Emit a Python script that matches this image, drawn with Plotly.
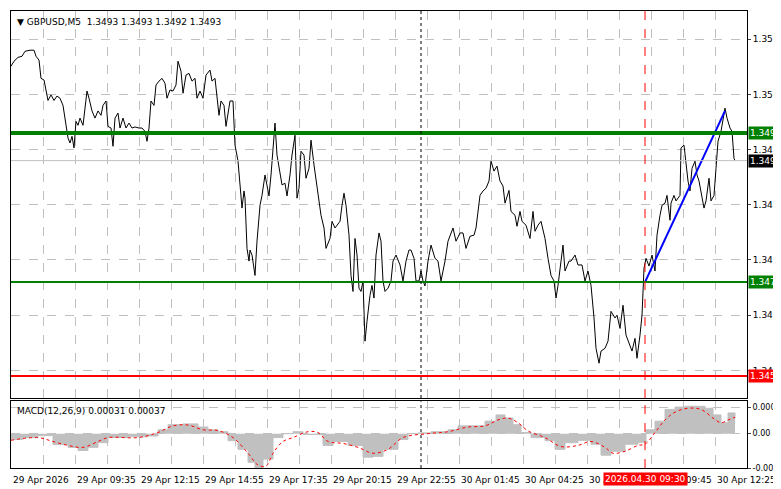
import plotly.graph_objects as go
from plotly.subplots import make_subplots

# ---------------- data ----------------
# price samples: bar index (5-minute bars) and price in pips above 1.3400
price_bar = [0,1.5,3.5,5.5,7,9.5,11.5,12.5,14,15,16.5,17.5,18.5,20,21.5,23,24.5,26,27,28.5,29.5,30.5,31.5,32.5,33.5,34.5,36,37,38,39,40.5,42,43.5,45,46,47.5,48.5,50,51,52,53.5,54.5,56,57.5,59,60.5,62,64,65.5,67,68,69,70,71.5,72.5,74,75.5,77,78,79.5,81,82.5,83.5,85,86,87.5,89,90.5,92,93,94.5,96,97.5,99.5,100.5,102,103,104,105,106.5,107.5,109.5,111,112,113.5,114.5,115.5,116.5,117,118,119,119.5,120.5,122,123,124.5,125.5,127,127.5,129,130,131.5,132,133,134.5,135.5,137,138,139.5,140.5,142,143,144,145,146.5,147.5,149,150,151.5,152.5,154,155,156.5,157.5,159.5,160.5,162,163,164.5,165.5,166.5,167.5,169,170,171,172,173,174,175,176,177,178,179.5,180.5,181.5,182.5,184,185,186,187,188.5,190,191,192.5,194.5,196,197.5,199,200,201.5,202.5,204,205,206,207,208.5,210,212,213.5,215,217,218.5,221,222.5,224.5,226,227.5,229.5,231.5,232.5,234.5,236,237.5,239,240,241.5,243,244.5,246,247,249,250,252,253,254.5,255.5,257.5,259.5,261,262,263.5,265,267,268.5,270,271.5,272.5,273.5,275,276,277,279,280,282,283.5,285.5,287,288.5,290,291.5,292.5,294,295,297,298.5,300,302,303,304.5,306,307.5,309.5,310.5,312,313,314.5,315.5,316.5,317.5,319,320.5,322,323,324.5,325.5,327,328,329.5,330,331.5,332.5,334.5,335,336.5,337.5,338.5,339.5,340.5,342,343,344,345,346.5,347.5,349,350,351.5,352.5,353.5,355,356,357,358,359.5,360.5,361.5,362]
price_pips = [110.1,111.0,111.7,111.9,112.8,113.0,113.0,111.9,111.2,107.9,107.6,105.8,103.9,104.9,103.9,104.7,104.3,103.0,100.3,97.1,96.2,97.4,95.3,100.1,99.4,100.7,99.4,102.5,105.6,104.3,102.0,100.7,102.0,101.2,103.0,103.8,99.2,98.9,95.6,100.7,101.6,98.9,100.7,98.9,99.8,98.9,99.1,98.9,98.9,98.3,96.5,98.9,103.8,103.0,106.7,107.4,107.9,107.0,104.3,105.8,105.6,106.7,111.0,109.2,105.2,108.5,108.8,107.4,107.9,104.3,105.6,104.3,108.5,109.4,107.4,107.9,104.9,101.2,103.8,103.0,99.2,103.8,103.8,95.8,92.9,89.3,84.4,87.5,86.2,77.1,74.8,76.8,75.9,72.2,78.4,84.9,86.7,90.4,89.3,86.6,90.4,97.1,99.8,94.0,90.4,88.6,88.9,86.6,90.4,94.0,97.6,86.2,88.0,94.7,94.0,89.8,91.6,96.7,92.2,89.3,85.8,83.1,80.8,77.1,78.9,82.0,80.8,81.3,82.0,84.9,87.1,84.9,79.5,72.2,69.3,78.9,75.9,69.9,69.3,71.2,60.3,63.9,68.6,70.4,68.1,75.9,79.9,78.4,71.2,69.3,69.9,71.2,74.8,75.9,74.1,71.2,74.8,76.8,76.8,75.3,71.2,71.2,73.0,71.2,70.3,74.8,77.7,75.3,74.8,71.2,74.8,78.4,80.8,78.4,79.9,79.9,77.1,79.3,79.5,80.8,86.7,87.5,88.0,89.3,92.9,91.1,92.0,89.3,88.4,85.3,87.6,83.8,83.1,81.1,83.8,82.0,81.3,78.9,83.8,80.2,81.3,82.0,78.9,75.3,72.2,71.2,68.1,70.4,74.8,77.7,73.0,74.8,74.8,75.9,74.1,74.1,71.2,73.0,70.4,64.5,59.0,56.3,58.5,59.0,60.3,65.7,64.5,65.0,62.6,66.8,61.4,59.6,58.5,60.8,57.2,61.4,65.0,73.5,75.3,73.9,75.9,73.0,79.5,83.1,84.9,85.3,86.7,82.2,85.3,86.7,85.7,86.7,95.3,95.8,92.9,89.3,87.5,91.6,92.9,90.4,89.3,87.5,84.4,85.7,89.8,85.7,86.7,91.6,96.5,98.3,100.7,102.5,100.7,98.9,98.3,93.4,93.0]

macd_bar = [0,6,13.5,21,28.5,33.5,38.5,43.5,48.5,58.5,68.5,73.5,78.5,86,93.5,98.5,103.5,108.5,113.5,118.5,122,126,131,136,141,146,151,156,161,168.5,176,181,186,193.5,198.5,203.5,210,218.5,223.5,230,237,242.5,247,251,255,260,267,272,277,283.5,290,295,300,307,313.5,317.5,322,327,332,337,342,347,351,355,358.5,362]
macd_hist = [-0.00015,-0.0001,-0.00005,-0.00028,-0.00035,-0.00043,-0.00035,-0.00023,-0.0001,-0.00008,-0.00006,0.0001,0.00023,0.00025,0.00017,0.0001,0.00005,-0.00018,-0.0004,-0.00073,-0.00093,-0.00065,-0.0001,0.0,0.00005,-0.00002,-0.00002,-0.0003,-0.0002,-0.0003,-0.0006,-0.00058,-0.0004,-0.00015,0.0,0.00002,0.00005,0.0001,0.0002,0.0002,0.00032,0.00048,0.0004,0.00023,0.00003,-0.0001,-0.00018,-0.0004,-0.00023,-0.00017,-0.00027,-0.00055,-0.00045,-0.00027,-0.00022,0.0001,0.00032,0.00062,0.00068,0.0007,0.0007,0.00065,0.00048,0.00028,0.00053,0.00039]
signal_bar = [0,13.5,21,28.5,36,43.5,48.5,63.5,73.5,81,88.5,96,103.5,111,118.5,123.5,127.5,131,136,141,148.5,153.5,158.5,166,173.5,181,188.5,196,208.5,218.5,228.5,237,243.5,248.5,253.5,258.5,267,275,283.5,290,297,301,307,313.5,317,322,327,332,338.5,345,351,355,358.5,362]
signal_val = [-0.00017,-0.0001,-0.0002,-0.0003,-0.00035,-0.0002,-0.0001,-0.0001,0.00003,0.0002,0.00022,0.0001,0.00008,-0.0001,-0.0005,-0.0008,-0.00083,-0.0005,-0.0002,-0.0001,0.00005,0.00003,-0.0002,-0.00025,-0.00035,-0.0005,-0.0004,-0.0001,0.0,0.00005,0.00017,0.0002,0.00035,0.0004,0.00028,0.00007,-0.0001,-0.00033,-0.0003,-0.0002,-0.00035,-0.0005,-0.00045,-0.0003,-0.00027,0.00003,0.00035,0.00055,0.00065,0.00062,0.0004,0.00028,0.00035,0.00042]

time_tick_bars = [0,32,64,96,128,160,192,224,256,288,320,352]
time_tick_labels = ["29 Apr 2026","29 Apr 09:35","29 Apr 12:15","29 Apr 14:55","29 Apr 17:35","29 Apr 20:15","29 Apr 22:55","30 Apr 01:45","30 Apr 04:25","30 Apr 07:05","30 Apr 09:45","30 Apr 12:25"]
price_ticks = [1.3515,1.3505,1.3495,1.3485,1.3475,1.3465,1.3455]
level_strong = 1.3498
level_support = 1.3471
level_stop = 1.3454
last_price = 1.3493
trend_bars = [317,357]
trend_prices = [1.3471,1.3502]
marker_bar_black = 205
marker_bar_red = 317
marker_label = "2026.04.30 09:30"
macd_ticks = [0.00068,0.0,-0.00088]
macd_ticktext = ["0.00068","0.00","-0.00088"]

FONT = "DejaVu Sans"
prices = [1.34 + p/10000 for p in price_pips]

fig = make_subplots(rows=2, cols=1, shared_xaxes=False, vertical_spacing=0)
fig.update_layout(
    width=781, height=489, margin=dict(l=3, r=42, t=3, b=28, autoexpand=False),
    paper_bgcolor="white", plot_bgcolor="white", showlegend=False,
    font=dict(family=FONT, size=9, color="black"),
    yaxis=dict(domain=[0.155, 1.0]), yaxis2=dict(domain=[0.002, 0.148]),
)

fig.add_trace(go.Scatter(x=price_bar, y=prices, mode="lines",
                         line=dict(color="black", width=1)), row=1, col=1)
fig.add_trace(go.Scatter(x=trend_bars, y=trend_prices, mode="lines",
                         line=dict(color="#0000ff", width=2)), row=1, col=1)
fig.add_trace(go.Scatter(x=macd_bar, y=macd_hist, mode="lines", fill="tozeroy",
                         fillcolor="#c0c0c0", line=dict(color="#c0c0c0", width=1, shape="hv")), row=2, col=1)
fig.add_trace(go.Scatter(x=signal_bar, y=signal_val, mode="lines",
                         line=dict(color="red", width=1, dash="dot", shape="spline")), row=2, col=1)

grid = dict(showgrid=True, gridcolor="#c0c0c0", griddash="dash", gridwidth=1)
for r in (1, 2):
    fig.update_xaxes(range=[0, 368], tickmode="linear", tick0=0, dtick=16,
                     showticklabels=False, showline=True, linecolor="black", automargin=False,
                     mirror=True, linewidth=1, zeroline=False, **grid, row=r, col=1)
fig.update_yaxes(range=[1.3450, 1.35201], side="right", tickvals=price_ticks,
                 tickformat=".4f", ticks="outside", ticklen=3, showline=True, automargin=False,
                 linecolor="black", mirror=True, zeroline=False, **grid, row=1, col=1)
fig.update_yaxes(range=[-0.00088, 0.00083], side="right", tickvals=macd_ticks,
                 ticktext=macd_ticktext, ticks="outside", ticklen=3, showline=True, automargin=False,
                 linecolor="black", mirror=True, zeroline=False, tickfont=dict(size=8), **grid, row=2, col=1)

# level lines
fig.add_hline(y=last_price, line=dict(color="#c0c0c0", width=1), row=1, col=1)
fig.add_hline(y=level_strong, line=dict(color="#008000", width=4), row=1, col=1)
fig.add_hline(y=level_support, line=dict(color="#008000", width=2), row=1, col=1)
fig.add_hline(y=level_stop, line=dict(color="#ff0000", width=2), row=1, col=1)
for r in (1, 2):
    fig.add_vline(x=marker_bar_black, line=dict(color="black", width=1, dash="dot"), row=r, col=1)
    fig.add_vline(x=marker_bar_red, line=dict(color="#ff0000", width=1, dash="dash"), row=r, col=1)

# right price labels
for val, bg in [(level_strong, "#008000"), (last_price, "black"),
                (level_support, "#008000"), (level_stop, "#ff0000")]:
    fig.add_annotation(x=1, xref="paper", y=val, yref="y", xanchor="left", xshift=1,
                       text=f"{val:.4f}", showarrow=False, bgcolor=bg,
                       font=dict(color="white", size=9, family=FONT), borderpad=1)

# time labels
for b, t in zip(time_tick_bars, time_tick_labels):
    fig.add_annotation(x=b, xref="x2", y=0, yref="paper", xanchor="left", yanchor="top",
                       yshift=-4, text=t, showarrow=False, font=dict(size=9, family=FONT))
fig.add_annotation(x=marker_bar_red, xref="x2", y=0, yref="paper", xanchor="center",
                   yanchor="top", yshift=-3, text=marker_label, showarrow=False,
                   bgcolor="#ff0000", font=dict(color="white", size=9, family=FONT), borderpad=1)

fig.add_annotation(x=0, xref="paper", y=1, yref="paper", xanchor="left", yanchor="top",
                   xshift=4, yshift=-4, text="▼ GBPUSD,M5  1.3493 1.3493 1.3492 1.3493",
                   showarrow=False, font=dict(size=9, family=FONT))
fig.add_annotation(x=0, xref="paper", y=0.148, yref="paper", xanchor="left", yanchor="top",
                   xshift=4, yshift=-3, text="MACD(12,26,9) 0.00031 0.00037",
                   showarrow=False, font=dict(size=9, family=FONT))

fig.write_html("out.html")
